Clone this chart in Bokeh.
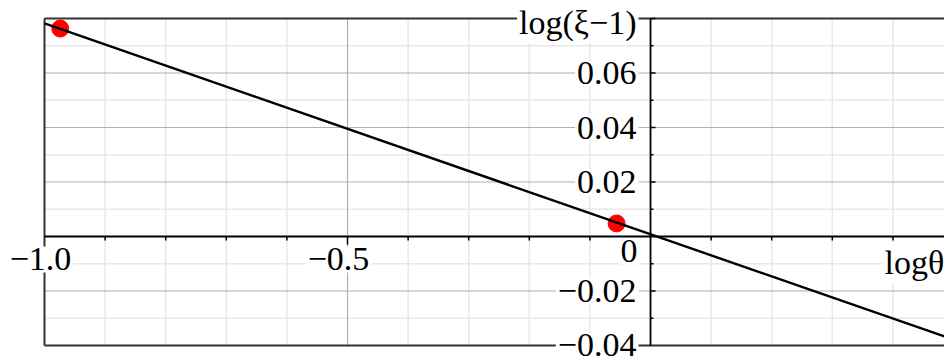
from bokeh.plotting import figure
from bokeh.models import Range1d, Label
from bokeh.embed import file_html
from bokeh.resources import INLINE

# data points (log theta, log(xi-1))
pts_x = [-0.974, -0.056]
pts_y = [0.0763, 0.0048]
# fitted line endpoints
fit_x = [-1.0, 0.485]
fit_y = [0.0782, -0.0367]

# visible box limits
X_LO, Y_LO, Y_HI = -1.0, -0.04, 0.08
# full canvas ranges (box starts 44px from left, 18px from top)
XR = (-1.0726, 0.4851)
YR = (-0.04404, 0.08661)

x_grid_major = [-0.5]
x_grid_minor = [-0.9, -0.8, -0.7, -0.6, -0.4, -0.3, -0.2, -0.1, 0.1, 0.2, 0.3, 0.4]
y_grid_major = [-0.02, 0.02, 0.04, 0.06]
y_grid_minor = [-0.03, -0.01, 0.01, 0.03, 0.05, 0.07]

x_label_vals = [-1.0, -0.5]
x_label_text = ["\u22121.0", "\u22120.5"]
y_label_vals = [0.06, 0.04, 0.02, -0.02, -0.04]
y_label_text = ["0.06", "0.04", "0.02", "\u22120.02", "\u22120.04"]

FONT = "Liberation Serif"
FS = "34px"

p = figure(width=944, height=356, output_backend="svg", toolbar_location=None,
           x_range=Range1d(*XR), y_range=Range1d(*YR),
           x_axis_type=None, y_axis_type=None, min_border=0)
p.min_border_left = p.min_border_right = p.min_border_top = p.min_border_bottom = 0
p.outline_line_color = None
p.xgrid.visible = False
p.ygrid.visible = False
p.background_fill_color = "white"
p.border_fill_color = "white"

X_HI = XR[1]
n = len
# minor grid
p.segment(x0=x_grid_minor, y0=[Y_LO] * n(x_grid_minor), x1=x_grid_minor, y1=[Y_HI] * n(x_grid_minor),
          line_color="#e8e8e8", line_width=1.5)
p.segment(x0=[X_LO] * n(y_grid_minor), y0=y_grid_minor, x1=[X_HI] * n(y_grid_minor), y1=y_grid_minor,
          line_color="#e8e8e8", line_width=1.5)
# major grid
p.segment(x0=x_grid_major, y0=[Y_LO] * n(x_grid_major), x1=x_grid_major, y1=[Y_HI] * n(x_grid_major),
          line_color="#b0b0b0", line_width=1.2)
p.segment(x0=[X_LO] * n(y_grid_major), y0=y_grid_major, x1=[X_HI] * n(y_grid_major), y1=y_grid_major,
          line_color="#b0b0b0", line_width=1.2)

# box: left, top, bottom
p.segment(x0=[X_LO, X_LO, X_LO], y0=[Y_LO, Y_HI, Y_LO], x1=[X_LO, X_HI, X_HI], y1=[Y_HI, Y_HI, Y_LO],
          line_color="#333333", line_width=2)

# axes through origin
p.segment(x0=[X_LO, 0], y0=[0, Y_LO], x1=[X_HI, 0], y1=[0, Y_HI], line_color="black", line_width=1.8)

# tick marks
xpx = 606.0   # px per x unit
ypx = 2725.0  # px per y unit
p.segment(x0=x_grid_minor, y0=[0] * n(x_grid_minor), x1=x_grid_minor, y1=[-4 / ypx] * n(x_grid_minor),
          line_color="black", line_width=1.5)
p.segment(x0=x_grid_major, y0=[0] * n(x_grid_major), x1=x_grid_major, y1=[-8 / ypx] * n(x_grid_major),
          line_color="black", line_width=1.5)
p.segment(x0=[0] * n(y_grid_minor), y0=y_grid_minor, x1=[3 / xpx] * n(y_grid_minor), y1=y_grid_minor,
          line_color="black", line_width=1.5)
yt_major = y_grid_major + [Y_HI]
p.segment(x0=[0] * n(yt_major), y0=yt_major, x1=[5 / xpx] * n(yt_major), y1=yt_major,
          line_color="black", line_width=1.5)

# data
p.scatter(pts_x, pts_y, size=17, color="#ff0000", line_color="#ff0000")
p.line(fit_x, fit_y, line_color="black", line_width=2.4)

def lab(x, y, text, align, xo, yo):
    p.add_layout(Label(x=x, y=y, text=text, text_align=align, text_baseline="middle",
                       x_offset=xo, y_offset=yo, text_font=FONT, text_font_size=FS,
                       text_color="black", background_fill_color="white", padding=2))

for v, t in zip(y_label_vals, y_label_text):
    lab(0, v, t, "right", -12, 0)
lab(0, 0, "0", "right", -11, -15)
for v, t, xo in zip(x_label_vals, x_label_text, [-4, -9]):
    lab(v, 0, t, "center", xo, -23)
lab(0, Y_HI, "log(\u03be\u22121)", "right", -12, -4)
lab(0, 0, "log\u03b8", "left", 232, -26)

open("out.html", "w").write(file_html(p, INLINE))
